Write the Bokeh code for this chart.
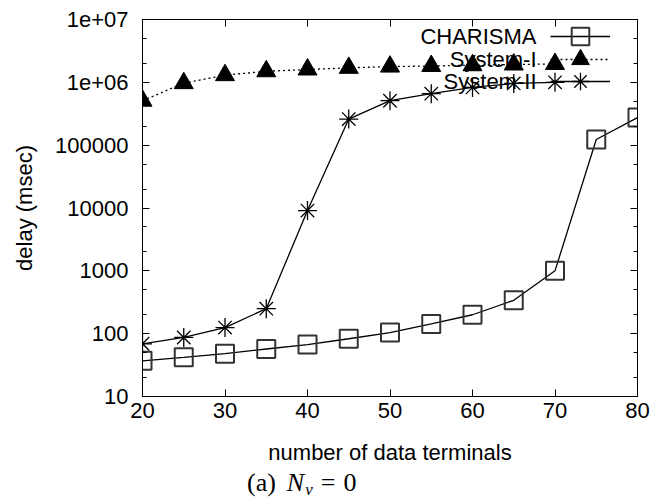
from bokeh.plotting import figure
from bokeh.models import Range1d, FixedTicker, LinearAxis, LogAxis, Label, Legend, LegendItem, Div
from bokeh.layouts import column
from bokeh.embed import file_html
from bokeh.resources import INLINE

# ---- data ----
terminals = [20, 25, 30, 35, 40, 45, 50, 55, 60, 65, 70, 75, 80]
charisma = [37, 42, 48, 57, 67, 83, 104, 143, 200, 340, 1000, 123000, 275000]

sys1_terminals = [20, 25, 30, 35, 40, 45, 50, 55, 60, 65, 70]
system_1 = [510000, 970000, 1300000, 1500000, 1600000, 1700000, 1780000, 1820000, 1870000, 1920000, 1960000]

sys2_terminals = [20, 25, 30, 35, 40, 45, 50, 55, 60, 65, 70]
system_2 = [69, 87, 125, 250, 9100, 260000, 510000, 660000, 830000, 960000, 1000000]

x_ticks = [20, 30, 40, 50, 60, 70, 80]
y_ticks = [10, 100, 1000, 10000, 100000, 1000000, 10000000]
y_tick_labels = ["10", "100", "1000", "10000", "100000", "1e+06", "1e+07"]
series_names = ["CHARISMA", "System-I", "System-II"]

FONT = "Liberation Sans"

p = figure(width=658, height=470, y_axis_type="log",
           x_range=Range1d(20, 80), y_range=Range1d(10, 1e7),
           output_backend="svg", toolbar_location=None,
           min_border_left=142, min_border_right=21, min_border_top=19, min_border_bottom=74)
p.grid.visible = False
p.outline_line_color = "black"
p.outline_line_width = 1
p.background_fill_color = "white"
p.border_fill_color = "white"

minor = [d * m for d in y_ticks[:-1] for m in (2, 5)]
yt = FixedTicker(ticks=y_ticks, minor_ticks=minor)
xt = FixedTicker(ticks=x_ticks)

def style_axis(ax):
    ax.major_tick_in = 7
    ax.major_tick_out = 0
    ax.minor_tick_in = 4
    ax.minor_tick_out = 0
    ax.axis_line_color = "black"
    ax.major_tick_line_color = "black"
    ax.minor_tick_line_color = "black"
    ax.major_label_text_font = FONT
    ax.major_label_text_font_size = "22px"
    ax.major_label_text_color = "black"

xa = p.xaxis[0]
xa.ticker = xt
style_axis(xa)
xa.major_label_standoff = 6
xa.axis_label = "number of data terminals"
xa.axis_label_text_font = FONT
xa.axis_label_text_font_size = "22px"
xa.axis_label_text_font_style = "normal"
xa.axis_label_text_color = "black"
xa.axis_label_standoff = 19

ya = p.yaxis[0]
ya.ticker = yt
style_axis(ya)
ya.major_label_overrides = {t: l for t, l in zip(y_ticks, y_tick_labels)}
ya.major_label_standoff = 14
ya.axis_label = "delay (msec)"
ya.axis_label_text_font = FONT
ya.axis_label_text_font_size = "22px"
ya.axis_label_text_font_style = "normal"
ya.axis_label_text_color = "black"
ya.axis_label_standoff = 15

# mirrored tick marks (no labels) on top and right
top = LinearAxis(ticker=xt)
style_axis(top)
top.minor_tick_in = 0
top.major_label_overrides = {t: "" for t in x_ticks}
top.major_label_standoff = 0
p.add_layout(top, "above")
right = LogAxis(ticker=yt)
style_axis(right)
right.major_label_overrides = {t: "" for t in y_ticks}
right.major_label_standoff = 0
p.add_layout(right, "right")

# ---- series ----
l1 = p.line(terminals, charisma, line_color="black", line_width=1.3)
s1 = p.scatter(terminals, charisma, marker="square", size=18, fill_color=None,
               line_color="#333333", line_width=2)

l2 = p.line(sys1_terminals, system_1, line_color="black", line_width=1.3, line_dash="2 3")
s2 = p.scatter(sys1_terminals, system_1, marker="triangle", size=19, fill_color="black",
               line_color="black")

l3 = p.line(sys2_terminals, system_2, line_color="black", line_width=1.3)
s3 = p.scatter(sys2_terminals, system_2, marker="asterisk", size=19, line_color="black",
               line_width=1.3)

# key: one legend per entry (sample only), text drawn to its left as in the original
for rends, ly in zip([[l1, s1], [l2, s2], [l3, s3]], [338, 315.5, 293]):
    lg = Legend(items=[LegendItem(label=" ", renderers=rends)],
                location=(408, ly), glyph_width=60, glyph_height=44, spacing=0,
                padding=0, margin=0, border_line_alpha=0, background_fill_alpha=0,
                label_text_font_size="2px", label_standoff=0, label_width=1, label_height=1)
    p.add_layout(lg)

for name, yy in zip(series_names, [360, 337.5, 315]):
    p.add_layout(Label(x=394, y=yy, x_units="screen", y_units="screen", text=name,
                       text_align="right", text_baseline="middle",
                       text_font=FONT, text_font_size="22px", text_color="black"))

# ---- caption ----
caption_html = ('<span>(a)</span>'
                '<span style="margin-left:11px;font-style:italic">N</span>'
                '<span style="font-style:italic;font-size:17px;position:relative;top:4px;margin-left:1px">v</span>'
                '<span style="margin-left:8px">=</span>'
                '<span style="margin-left:8px">0</span>')
caption = Div(text=caption_html, width=658, height=34, margin=0,
              styles={"font-family": "Liberation Serif", "font-size": "26px",
                      "padding-left": "247px", "line-height": "26px", "color": "black",
                      "padding-top": "0px"})

layout = column(p, caption, spacing=0)
open("out.html", "w").write(file_html(layout, INLINE))
